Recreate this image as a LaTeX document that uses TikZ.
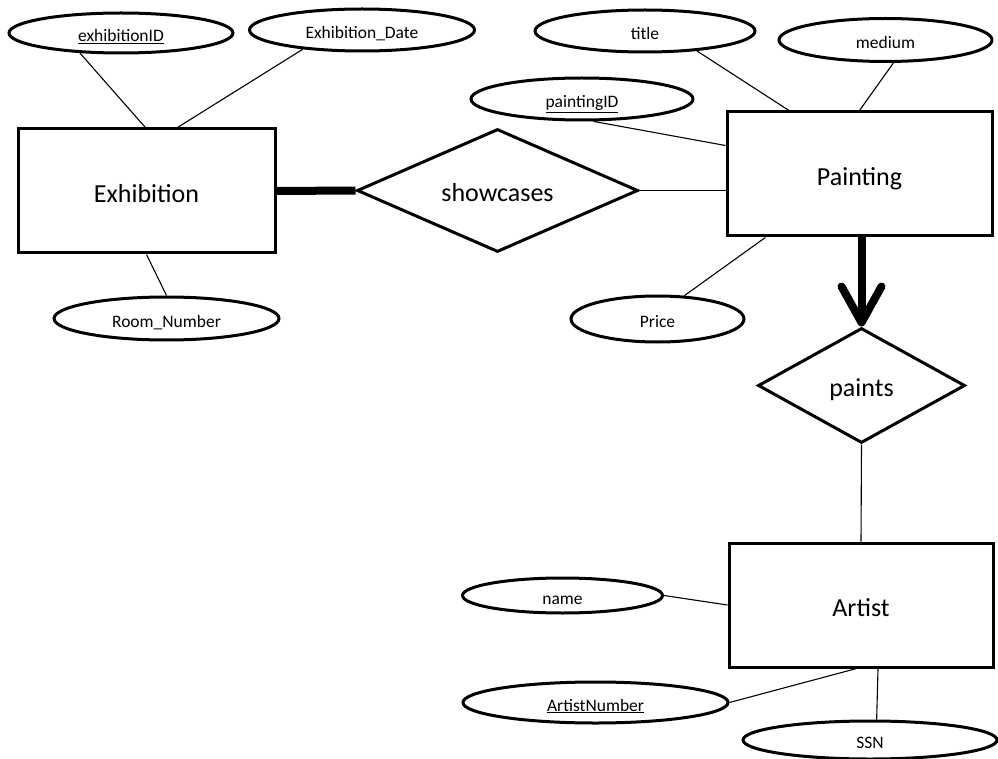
\documentclass[tikz,border=0pt]{standalone}
\usepackage{fontspec}
\setmainfont{Carlito}
\usepackage{xcolor}
\usepackage{tikz}
\usetikzlibrary{arrows.meta,shapes.geometric,positioning,calc}
\definecolor{inkBlack}{RGB}{0,0,0}
\definecolor{paperWhite}{RGB}{255,255,255}
\newcommand{\erbigfont}{\fontsize{26}{30}\selectfont}
\newcommand{\ersmallfont}{\fontsize{17.5}{20}\selectfont}
\tikzset{
  entitybox/.style={
    rectangle, draw=inkBlack, line width=3pt, fill=paperWhite,
    minimum width=264pt, minimum height=124pt, inner sep=0pt, font=\erbigfont,
    text height=23pt, text depth=0pt
  },
  relbox/.style={
    diamond, draw=inkBlack, line width=3pt, fill=paperWhite, aspect=2.2,
    inner sep=0pt, font=\erbigfont, text height=22pt, text depth=0pt
  },
  attrbox/.style={
    ellipse, draw=inkBlack, line width=3pt, fill=paperWhite,
    inner sep=0pt, font=\ersmallfont, text height=17pt, text depth=0pt
  },
  thinLink/.style={draw=inkBlack, line width=1.1pt},
  heavyLink/.style={draw=inkBlack, line width=8pt}
}

\begin{document}
\begin{tikzpicture}[x=1pt, y=-1pt,
          attr/.style={attrbox, minimum width=#1},
          arrowTip/.style={-{Straight Barb[length=36pt,width=40pt,line join=round,line cap=round]}}]
        \useasboundingbox[fill=paperWhite] (0,0) rectangle (998,759);
        \node[entitybox, minimum width=257pt] (exhib)  at (146.5,191)  {Exhibition};
        \node[entitybox, minimum width=265pt] (paint)  at (859.5,174)  {Painting};
        \node[entitybox]                      (artist) at (861,605)    {Artist};
        \node[relbox, minimum width=281pt, minimum height=123pt] (show)   at (497.5,190.5) {showcases};
        \node[relbox, minimum width=207pt, minimum height=115pt] (paints) at (861.5,385.5) {paints};
        \node[attr=224pt, minimum height=40pt] (exid)   at (121,33)     {\underline{exhibitionID}};
        \node[attr=225pt, minimum height=42pt] (exdate) at (362,30)     {Exhibition\_Date};
        \node[attr=225pt, minimum height=43pt] (room)   at (166.5,318.5){Room\_Number};
        \node[attr=220pt, minimum height=42pt] (title)  at (645,31)     {title};
        \node[attr=213pt, minimum height=43pt] (medium) at (885.5,40)   {medium};
        \node[attr=222pt, minimum height=42pt] (pid)    at (582,99)     {\underline{paintingID}};
        \node[attr=173pt, minimum height=46pt] (price)  at (657.5,319)  {Price};
        \node[attr=200pt, minimum height=35pt] (name)   at (562.5,595.5){name};
        \node[attr=265pt, minimum height=41pt] (artnum) at (595.5,702.5){\underline{ArtistNumber}};
        \node[attr=254pt, minimum height=38pt] (ssn)    at (870,740)    {SSN};
        \draw[thinLink] (exid.-154)   -- (exhib.91);
        \draw[thinLink] (exdate.-162) -- (exhib.64);
        \draw[thinLink] (exhib.south) -- (room.north);
        \draw[thinLink] (title.-21)   -- (paint.138);
        \draw[thinLink] (medium.-71)  -- (paint.north);
        \draw[thinLink] (pid.-63)     -- (paint.168);
        \draw[thinLink] (price.41)    -- (paint.-146);
        \draw[thinLink] (show.east)   -- (show.east -| paint.west);
        \draw[heavyLink] (exhib.east) -- (show.west);
        \draw[heavyLink, arrowTip] (paints.north |- paint.south) -- (paints.north);
        \draw[thinLink] (paints.south) -- (artist.north);
        \draw[thinLink] (name.east)    -- (artist.west);
        \draw[thinLink] (artnum.east)  -- (artist.-94);
        \draw[thinLink] (artist.-75)   -- (ssn.72);
      \end{tikzpicture}
\end{document}
